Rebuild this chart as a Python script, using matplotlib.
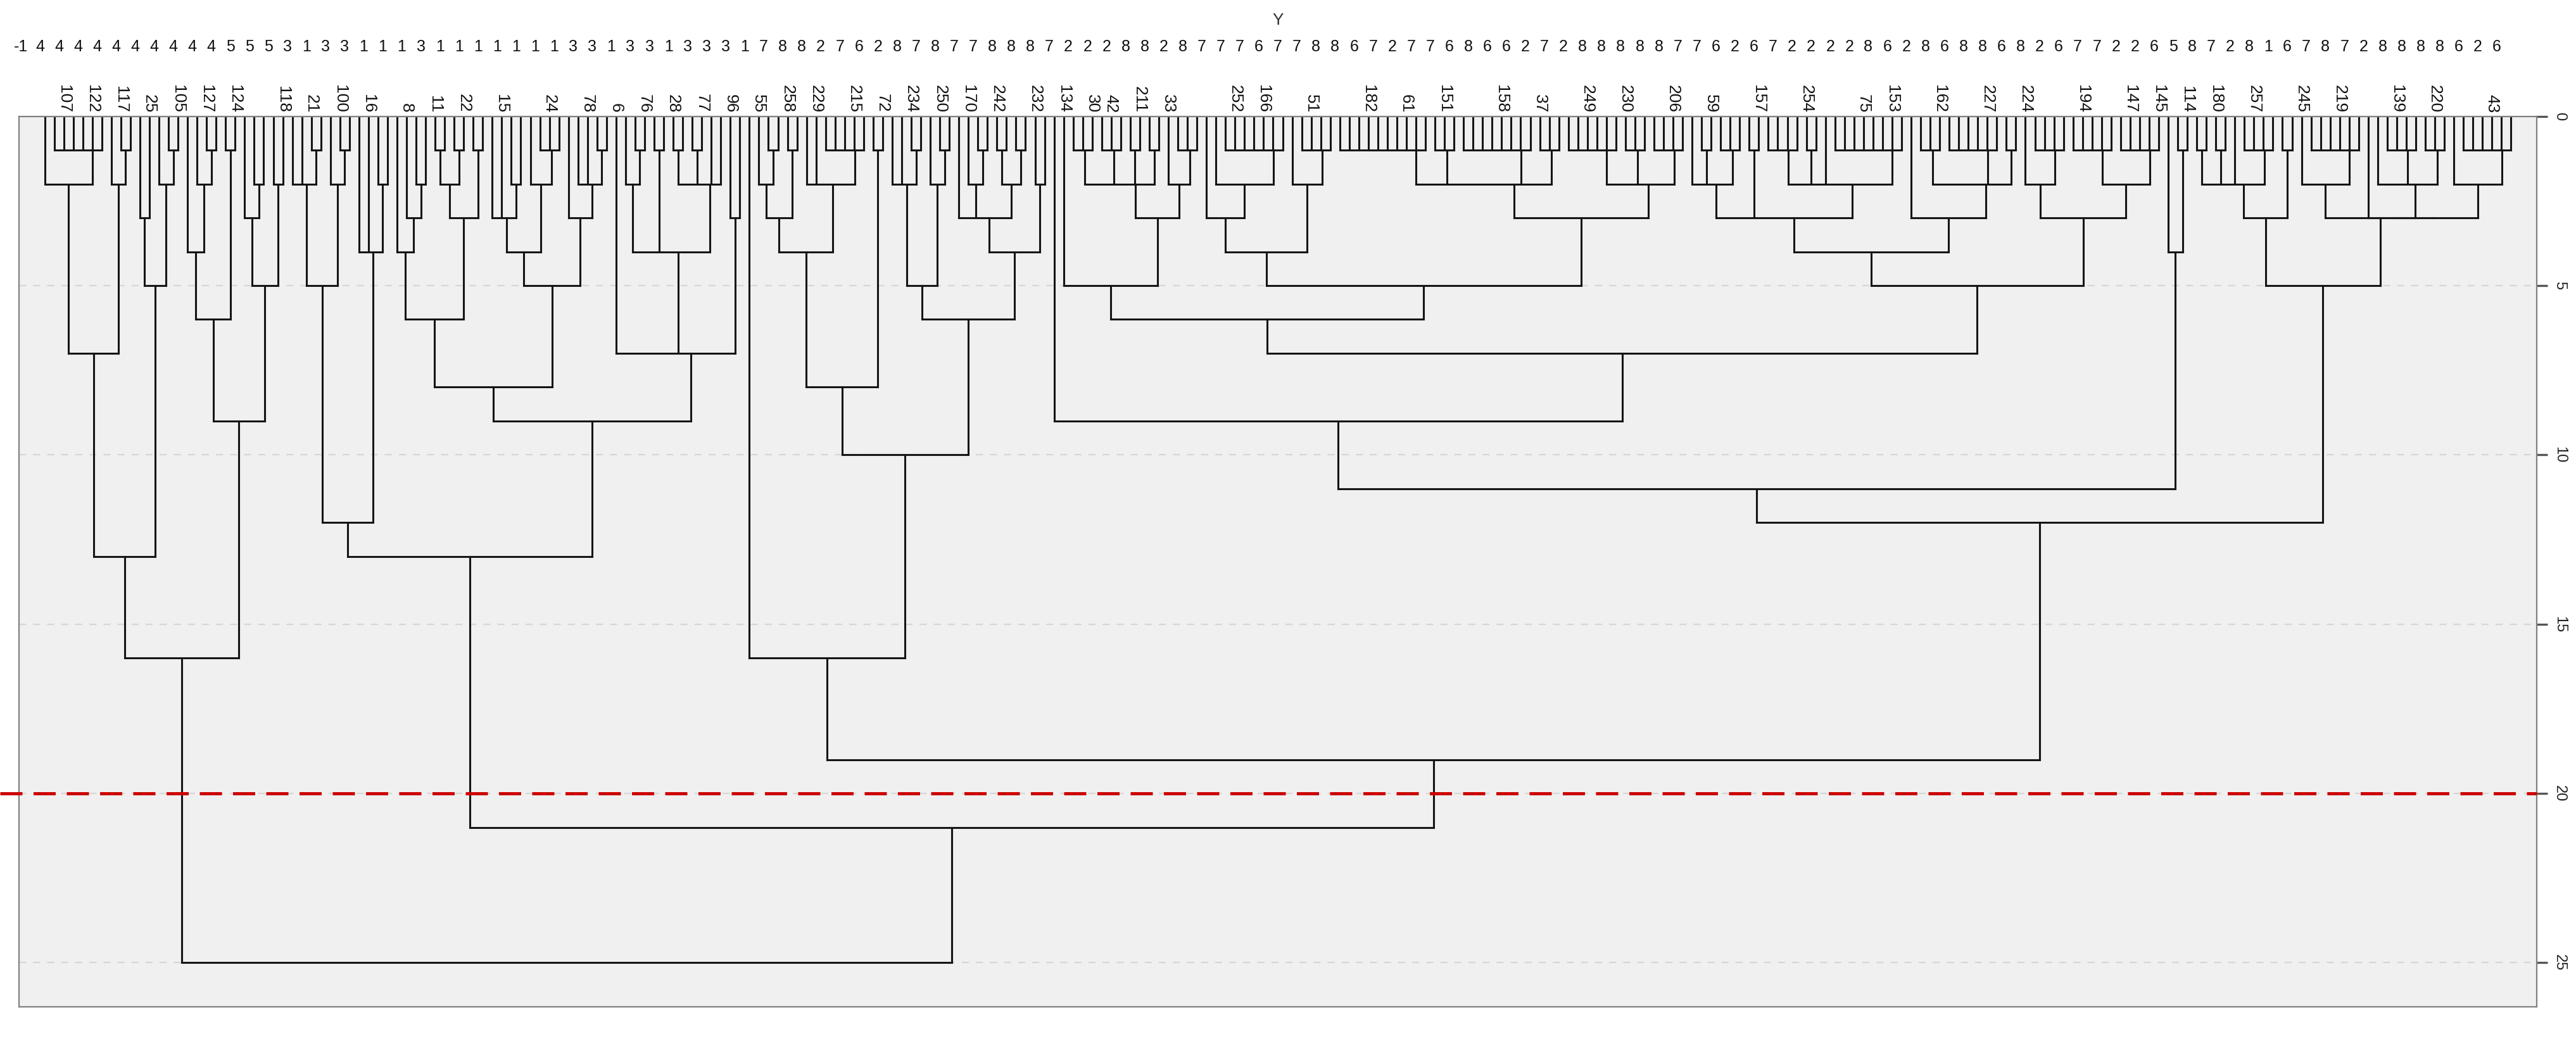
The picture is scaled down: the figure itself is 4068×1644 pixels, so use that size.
import numpy as np
import matplotlib
matplotlib.use("Agg")
import matplotlib.pyplot as plt
from matplotlib.collections import LineCollection
from matplotlib.transforms import blended_transform_factory


def R(a, b):
    return list(range(a, b + 1))

# tree nodes are (merge height, [children]); an int child is a leaf (left-to-right position)
left_a = (13, [(7, [(2, [0, (1, R(1, 6))]), (2, [7, (1, [8, 9])])]),
               (5, [(3, [10, 11]), (2, [12, (1, [13, 14])])])])
left_b = (9, [(6, [(4, [15, (2, [16, (1, [17, 18])])]), (1, [19, 20])]),
              (5, [(3, [21, (2, [22, 23])]), (2, [24, 25])])])
left_branch = (16, [left_a, left_b])

midl_a = (12, [(5, [(2, [26, 27, (1, [28, 29])]), (2, [30, (1, [31, 32])])]),
               (4, [33, 34, (2, [35, 36])])])
midl_b = (8, [(6, [(4, [37, (3, [38, (2, [39, 40])])]),
                   (3, [(2, [(1, [41, 42]), (1, [43, 44])]), (1, [45, 46])])]),
              (5, [(4, [(3, [47, 48, (2, [49, 50])]), (2, [51, (1, [52, 53, 54])])]),
                   (3, [55, (2, [56, 57, (1, [58, 59])])])])])
midl_c = (7, [60, (4, [(2, [61, (1, [62, 63])]), (1, [64, 65]),
                       (2, [(1, [66, 67]), (1, [68, 69]), 70, 71])]),
              (3, [72, 73])])
midl_branch = (13, [midl_a, (9, [midl_b, midl_c])])

mid_a = (8, [(4, [(3, [(2, [75, (1, [76, 77])]), (1, [78, 79])]),
                  (2, [80, 81, (1, R(82, 86))])]),
             (1, [87, 88])])
mid_b = (6, [(5, [(2, [89, 90, (1, [91, 92])]), (2, [93, (1, [94, 95])])]),
             (4, [(3, [96, (2, [97, (1, [98, 99])]),
                       (2, [(1, [100, 101]), (1, [102, 103])])]),
                  (2, [104, 105])])])
mid_branch = (16, [74, (10, [mid_a, mid_b])])

right_a = (6, [(5, [107, (3, [(2, [(1, R(108, 110)), (1, R(111, 113)), (1, [114, 115]), (1, [116, 117])]),
                              (2, [118, (1, R(119, 121))])])]),
               (5, [(4, [(3, [122, (2, [123, (1, R(124, 130))])]), (2, [131, (1, R(132, 135))])]),
                    (3, [(2, [(1, R(136, 145)), (1, R(146, 148)), (1, R(149, 156)), (1, R(157, 159))]),
                         (2, [(1, R(160, 165)), (1, R(166, 168)), (1, R(169, 172))])])])])
right_b = (5, [(4, [(3, [(2, [173, (1, [174, 175]), (1, R(176, 178))]), (1, [179, 180]),
                         (2, [(1, R(181, 184)), (1, [185, 186]), 187, (1, R(188, 195))])]),
                    (3, [196, (2, [(1, R(197, 199)), (1, R(200, 205)), (1, [206, 207])])])]),
               (3, [(2, [208, (1, R(209, 212))]), (2, [(1, R(213, 217)), (1, R(218, 222))])])])
right_c = (4, [223, (1, [224, 225])])
right_d = (5, [(3, [(2, [(1, [226, 227]), (1, [228, 229]), 230, (1, R(231, 234))]), (1, [235, 236])]),
               (3, [(2, [237, (1, R(238, 243))]),
                    (3, [(3, [244, (2, [245, (1, R(246, 249)), (1, R(250, 252))])]),
                         (2, [253, (1, R(254, 259))])])])])
right_branch = (12, [(11, [(9, [106, (7, [right_a, right_b])]), right_c]), right_d])

tree = (25, [left_branch, (21, [midl_branch, (19, [mid_branch, right_branch])])])

# labels shown above some leaves (leaf position -> id)
leaf_labels = {2: '107', 5: '122', 8: '117', 11: '25', 14: '105', 17: '127', 20: '124',
               25: '118', 28: '21', 31: '100', 34: '16', 38: '8', 41: '11', 44: '22',
               48: '15', 53: '24', 57: '78', 60: '6', 63: '76', 66: '28', 69: '77',
               72: '96', 75: '55', 78: '258', 81: '229', 85: '215', 88: '72', 91: '234',
               94: '250', 97: '170', 100: '242', 104: '232', 107: '134', 110: '30',
               112: '42', 115: '211', 118: '33', 125: '252', 128: '166', 133: '51',
               139: '182', 143: '61', 147: '151', 153: '158', 157: '37', 162: '249',
               166: '230', 171: '206', 175: '59', 180: '157', 185: '254', 191: '75',
               194: '153', 199: '162', 204: '227', 208: '224', 214: '194', 219: '147',
               222: '145', 225: '114', 228: '180', 232: '257', 237: '245', 241: '219',
               247: '139', 251: '220', 257: '43'}

# Y row along the top
y_codes = ['-1', '4', '4', '4', '4', '4', '4', '4', '4', '4', '4', '5', '5', '5',
           '3', '1', '3', '3', '1', '1', '1', '3', '1', '1', '1', '1', '1', '1', '1',
           '3', '3', '1', '3', '3', '1', '3', '3', '3', '1', '7', '8', '8', '2', '7', '6',
           '2', '8', '7', '8', '7', '7', '8', '8', '8', '7', '2', '2', '2', '8', '8', '2',
           '8', '7', '7', '7', '6', '7', '7',
           '8', '8', '6', '7', '2', '7', '7', '6', '8', '6', '6', '2', '7', '2', '8', '8',
           '8', '8', '8', '7', '7', '6', '2',
           '6', '7', '2', '2', '2', '2', '8', '6', '2', '8', '6', '8', '8', '6', '8', '2',
           '6', '7', '7', '2', '2', '6',
           '5', '8', '7', '2', '8', '1', '6', '7', '8', '7', '2', '8', '8', '8', '8', '6',
           '2', '6']

cut_height = 20
y_ticks = [0, 5, 10, 15, 20, 25]


def walk(node, segs, order):
    if isinstance(node, int):
        order.append(node)
        return float(len(order) - 1), 0.0
    h, kids = node
    pts = [walk(k, segs, order) for k in kids]
    xs = [p[0] for p in pts]
    for x, hk in pts:
        segs.append([(x, hk), (x, h)])
    segs.append([(min(xs), h), (max(xs), h)])
    xm = xs[0]
    for x in xs[1:]:  # merges chained left to right
        xm = (xm + x) / 2
    return xm, h


segs, order = [], []
walk(tree, segs, order)
assert order == list(range(len(order)))
n_leaves = len(order)

fnt = ['Liberation Sans', 'DejaVu Sans']

W, H = 4068, 1644
fig = plt.figure(figsize=(W / 100, H / 100), dpi=100)
ax = fig.add_axes([30 / W, 1 - 1590 / H, (4006 - 30) / W, (1590 - 183.6) / H])
ax.set_facecolor('#f0f0f0')
ax.set_xlim(-2.7, n_leaves + 1.7)
ax.set_ylim(26.3, 0)

for v in y_ticks[1:]:
    ax.axhline(v, color='#d6d6d6', lw=1.6, dashes=(5, 5), zorder=0.5)

ax.add_collection(LineCollection(segs, colors='#151515', linewidths=2.2,
                                 capstyle='projecting', zorder=2))
ax.plot([-0.0075, 1.0], [cut_height, cut_height], color='#cc0000', lw=3.6,
        dashes=(7, 3.5), zorder=3, clip_on=False,
        transform=blended_transform_factory(ax.transAxes, ax.transData))

for s in ax.spines.values():
    s.set_color('#808080')
    s.set_linewidth(1.6)

ax.set_xticks([])
ax.yaxis.tick_right()
ax.set_yticks(y_ticks)
ax.set_yticklabels([str(t) for t in y_ticks], rotation=270, va='center',
                   family=fnt, fontsize=17, color='#222222')
ax.tick_params(axis='y', length=12, width=2.4, color='#555555', pad=6)

trans = blended_transform_factory(ax.transData, ax.transAxes)
for i, lab in leaf_labels.items():
    ax.text(i, 1.004, lab, rotation=270, ha='center', va='bottom', transform=trans,
            family=fnt, fontsize=19, color='#111111')

for k, d in enumerate(y_codes):
    ax.text(-2.5 + 2 * k, 1.078, d, ha='center', va='center', transform=trans,
            family=fnt, fontsize=18, color='#111111')

fig.text((30 + 4006) / 2 / W, 1 - 32 / H, 'Y', ha='center', va='center',
         family=fnt, fontsize=19, color='#333333')

fig.savefig('out.png', dpi=100, facecolor='white')
